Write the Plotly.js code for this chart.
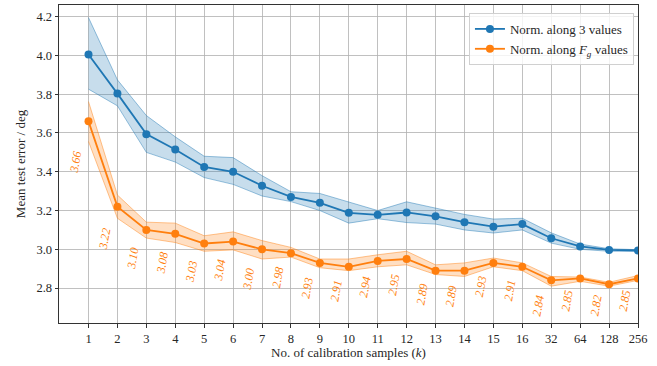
<!DOCTYPE html>
<html>
<head>
<meta charset="utf-8">
<script src="https://cdn.plot.ly/plotly-3.0.1.min.js"></script>
<style>
html,body{margin:0;padding:0;background:#fff;}
#chart{width:657px;height:366px;}
</style>
</head>
<body>
<div id="chart"></div>
<script>
// Categories (number of calibration samples k)
var kLabels = ["1","2","3","4","5","6","7","8","9","10","11","12","13","14","15","16","32","64","128","256"];

// Norm. along 3 values
var blueMean  = [4.005, 3.803, 3.594, 3.515, 3.425, 3.400, 3.328, 3.270, 3.240, 3.188, 3.178, 3.190, 3.170, 3.140, 3.117, 3.130, 3.057, 3.015, 2.997, 2.994];
var blueUpper = [4.195, 3.874, 3.690, 3.580, 3.480, 3.473, 3.380, 3.297, 3.288, 3.242, 3.200, 3.245, 3.212, 3.180, 3.156, 3.160, 3.085, 3.027, 3.003, 2.998];
var blueLower = [3.826, 3.740, 3.500, 3.450, 3.370, 3.335, 3.275, 3.246, 3.200, 3.135, 3.158, 3.138, 3.130, 3.100, 3.084, 3.100, 3.032, 3.000, 2.990, 2.990];

// Norm. along F_g values
var orangeMean  = [3.66, 3.22, 3.10, 3.08, 3.03, 3.04, 3.00, 2.98, 2.93, 2.91, 2.94, 2.95, 2.89, 2.89, 2.93, 2.91, 2.84, 2.85, 2.82, 2.85];
var orangeUpper = [3.762, 3.280, 3.140, 3.135, 3.070, 3.090, 3.045, 3.010, 2.950, 2.950, 2.972, 2.990, 2.920, 2.930, 2.955, 2.930, 2.860, 2.857, 2.830, 2.865];
var orangeLower = [3.556, 3.160, 3.058, 3.035, 2.990, 2.997, 2.950, 2.960, 2.905, 2.890, 2.910, 2.920, 2.870, 2.860, 2.910, 2.890, 2.810, 2.835, 2.810, 2.840];
var orangeText  = ["3.66","3.22","3.10","3.08","3.03","3.04","3.00","2.98","2.93","2.91","2.94","2.95","2.89","2.89","2.93","2.91","2.84","2.85","2.82","2.85"];

var yTicks = [2.8, 3.0, 3.2, 3.4, 3.6, 3.8, 4.0, 4.2];

var idx = kLabels.map(function(_, i){ return i; });
var BLUE = '#1f77b4', ORANGE = '#ff7f0e';
var FONT = 'Liberation Serif, DejaVu Serif, serif';

function band(lower, upper, rgb){
  return [
    {x: idx, y: lower, mode: 'lines', line: {color: 'rgba(' + rgb + ',0.45)', width: 1}, showlegend: false, hoverinfo: 'skip'},
    {x: idx, y: upper, mode: 'lines', line: {color: 'rgba(' + rgb + ',0.45)', width: 1}, fill: 'tonexty', fillcolor: 'rgba(' + rgb + ',0.25)', showlegend: false, hoverinfo: 'skip'}
  ];
}

var traces = []
  .concat(band(blueLower, blueUpper, '31,119,180'))
  .concat(band(orangeLower, orangeUpper, '255,127,14'))
  .concat([
    {x: idx, y: blueMean, mode: 'lines+markers', name: 'Norm. along 3 values',
     line: {color: BLUE, width: 1.8}, marker: {color: BLUE, size: 8}},
    {x: idx, y: orangeMean, mode: 'lines+markers', name: 'Norm. along <i>F<sub>g</sub></i> values',
     line: {color: ORANGE, width: 1.8}, marker: {color: ORANGE, size: 8}}
  ]);

var annotations = idx.map(function(i){
  return {
    x: i, y: orangeLower[i], xref: 'x', yref: 'y',
    text: '<i>' + orangeText[i] + '</i>', showarrow: false,
    textangle: -80, xanchor: 'right', yanchor: 'top',
    xshift: -2, yshift: -6,
    font: {family: FONT, size: 12, color: ORANGE}
  };
});

var layout = {
  width: 657, height: 366,
  margin: {l: 59, r: 19, t: 5, b: 43},
  paper_bgcolor: '#fff', plot_bgcolor: '#fff',
  font: {family: FONT, size: 12.5, color: '#262626'},
  showlegend: true,
  legend: {x: 0.993, y: 0.975, xanchor: 'right', yanchor: 'top', traceorder: 'normal',
           bgcolor: 'rgba(255,255,255,0.8)', bordercolor: '#d0d0d0', borderwidth: 1,
           font: {family: FONT, size: 13}, tracegroupgap: 0, itemwidth: 30},
  xaxis: {
    range: [-1.02, 19], tickvals: idx, ticktext: kLabels,
    showgrid: true, gridcolor: '#b0b0b0', gridwidth: 0.8,
    zeroline: false, showline: true, linecolor: '#333', linewidth: 1, mirror: true,
    ticks: 'outside', ticklen: 3.5, tickcolor: '#333',
    title: {text: 'No. of calibration samples (<i>k</i>)', standoff: 3, font: {family: FONT, size: 13}},
    tickfont: {family: FONT, size: 12.5}
  },
  yaxis: {
    range: [2.62, 4.26], tickvals: yTicks, ticktext: yTicks.map(function(v){ return v.toFixed(1); }),
    showgrid: true, gridcolor: '#b0b0b0', gridwidth: 0.8,
    zeroline: false, showline: true, linecolor: '#333', linewidth: 1, mirror: true,
    ticks: 'outside', ticklen: 3.5, tickcolor: '#333',
    title: {text: 'Mean test error / deg', standoff: 7, font: {family: FONT, size: 13}},
    tickfont: {family: FONT, size: 12.5}
  },
  annotations: annotations
};

Plotly.newPlot('chart', traces, layout, {displayModeBar: false, staticPlot: true});
</script>
</body>
</html>
